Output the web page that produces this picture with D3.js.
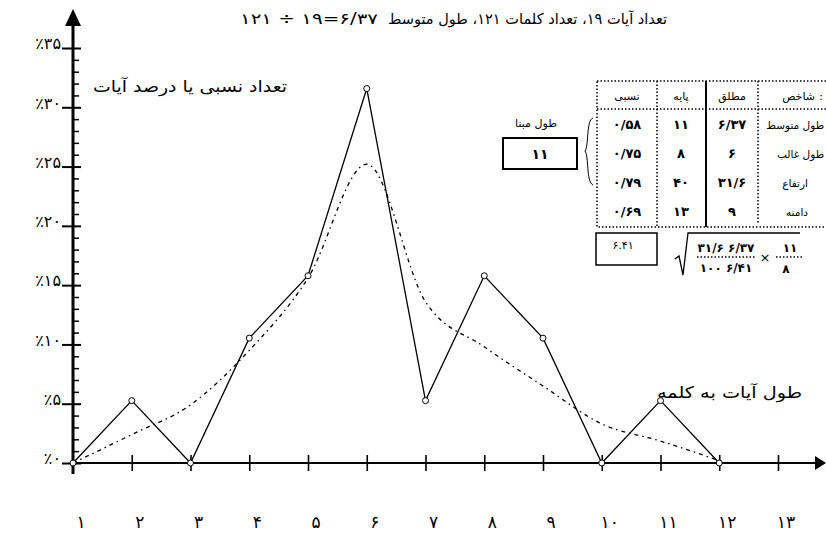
<!DOCTYPE html>
<html>
<head>
<meta charset="utf-8">
<script src="https://cdn.jsdelivr.net/npm/d3@7/dist/d3.min.js"></script>
<style>
  html, body { margin: 0; padding: 0; background: #fff; }
  svg { display: block; }
  text { font-family: "DejaVu Sans", "Noto Sans", sans-serif; fill: #000; }
</style>
</head>
<body>
<svg id="chart" width="826" height="535"></svg>
<script>
// ---- data ----
const lengths = [1, 2, 3, 4, 5, 6, 7, 8, 9, 10, 11, 12];
const percentVerses = [0, 5.26, 0, 10.53, 15.79, 31.58, 5.26, 15.79, 10.53, 0, 5.26, 0];
const fittedPercent = [0, 2.4, 4.9, 9.5, 15.6, 25.2, 13.6, 9.8, 6.5, 3.3, 1.85, 0.2];
const xTicks = [1, 2, 3, 4, 5, 6, 7, 8, 9, 10, 11, 12, 13];
const xTickLabels = ["۱", "۲", "۳", "۴", "۵", "۶", "۷", "۸", "۹", "۱۰", "۱۱", "۱۲", "۱۳"];
const yTicks = [0, 5, 10, 15, 20, 25, 30, 35];
const yTickLabels = ["٪۰", "٪۵", "٪۱۰", "٪۱۵", "٪۲۰", "٪۲۵", "٪۳۰", "٪۳۵"];
const yMinorTicks = d3.range(0, 36).filter(v => v % 5 !== 0);

const titleText = "تعداد آیات ۱۹، تعداد کلمات ۱۲۱، طول متوسط";
const titleFormula = "۱۲۱ ÷ ۱۹=۶/۳۷";
const yTitle = "تعداد نسبی یا درصد آیات";
const xTitle = "طول آیات به کلمه";

const tableHeaders = ["نسبی", "پایه", "مطلق", "شاخص"];
const tableRows = ["طول متوسط", "طول غالب", "ارتفاع", "دامنه"];
const colRelative = ["۰/۵۸", "۰/۷۵", "۰/۷۹", "۰/۶۹"];
const colBase = ["۱۱", "۸", "۴۰", "۱۳"];
const colAbsolute = ["۶/۳۷", "۶", "۳۱/۶", "۹"];
const baseLengthLabel = "طول مبنا";
const baseLengthValue = "۱۱";
const resultValue = "۶.۴۱";
const formulaNum1 = "۳۱/۶ ۶/۳۷", formulaDen1 = "۱۰۰ ۶/۴۱";
const formulaNum2 = "۱۱", formulaDen2 = "۸";

// ---- chart ----
const svg = d3.select("#chart");
const x = d3.scaleLinear().domain([1, 13]).range([73, 778]);
const y = d3.scaleLinear().domain([0, 35]).range([463, 48]);
const x0 = x(1), y0 = y(0);

// axes lines
svg.append("line").attr("x1", x0).attr("x2", x0).attr("y1", 22).attr("y2", 474)
  .attr("stroke", "#000").attr("stroke-width", 3);
svg.append("path").attr("d", `M${x0},9 L${x0 - 8},26 L${x0 + 8},26 Z`).attr("fill", "#000");
svg.append("line").attr("x1", x0).attr("x2", 816).attr("y1", y0).attr("y2", y0)
  .attr("stroke", "#000").attr("stroke-width", 2);
svg.append("path").attr("d", `M826,${y0} L815,${y0 - 7} L815,${y0 + 7} Z`).attr("fill", "#000");

// y axis ticks (major, both sides) + labels
const yLeft = svg.append("g").attr("transform", `translate(${x0},0)`)
  .call(d3.axisLeft(y).tickValues(yTicks).tickSize(11).tickPadding(1)
    .tickFormat((d, i) => yTickLabels[i]));
yLeft.select(".domain").remove();
yLeft.selectAll(".tick line").attr("stroke", "#000").attr("stroke-width", 2);
yLeft.selectAll(".tick text").attr("font-size", 16).attr("dy", "0.05em")
  .style("font-family", '"DejaVu Sans", sans-serif').attr("fill", "#000");
const yRight = svg.append("g").attr("transform", `translate(${x0},0)`)
  .call(d3.axisRight(y).tickValues(yTicks).tickSize(8).tickFormat(""));
yRight.select(".domain").remove();
yRight.selectAll(".tick line").attr("stroke", "#000").attr("stroke-width", 2);
const yMinor = svg.append("g").attr("transform", `translate(${x0},0)`)
  .call(d3.axisRight(y).tickValues(yMinorTicks).tickSize(6).tickFormat(""));
yMinor.select(".domain").remove();
yMinor.selectAll(".tick line").attr("stroke", "#000").attr("stroke-width", 1.5);

// x axis ticks (both sides)
const xB = svg.append("g").attr("transform", `translate(0,${y0})`)
  .call(d3.axisBottom(x).tickValues(xTicks.slice(1)).tickSize(8).tickFormat(""));
xB.select(".domain").remove();
xB.selectAll(".tick line").attr("stroke", "#000").attr("stroke-width", 1.6);
const xT = svg.append("g").attr("transform", `translate(0,${y0})`)
  .call(d3.axisTop(x).tickValues(xTicks.slice(1)).tickSize(8).tickFormat(""));
xT.select(".domain").remove();
xT.selectAll(".tick line").attr("stroke", "#000").attr("stroke-width", 1.6);

// x tick labels
svg.append("g").selectAll("text").data(xTicks).join("text")
  .attr("x", d => x(d) + 8).attr("y", 528)
  .attr("text-anchor", "middle").attr("font-size", 17)
  .text((d, i) => xTickLabels[i]);

// fitted curve (dash-dot)
const fitLine = d3.line().x((d, i) => x(lengths[i])).y(d => y(d)).curve(d3.curveMonotoneX);
svg.append("path").datum(fittedPercent).attr("d", fitLine)
  .attr("fill", "none").attr("stroke", "#000").attr("stroke-width", 1.3)
  .attr("stroke-dasharray", "4,4,1.5,4");

// observed line
const obsLine = d3.line().x((d, i) => x(lengths[i])).y(d => y(d));
svg.append("path").datum(percentVerses).attr("d", obsLine)
  .attr("fill", "none").attr("stroke", "#000").attr("stroke-width", 1.3);
svg.append("g").selectAll("circle").data(percentVerses).join("circle")
  .attr("cx", (d, i) => x(lengths[i])).attr("cy", d => y(d)).attr("r", 3)
  .attr("fill", "#fff").attr("stroke", "#000").attr("stroke-width", 1);

// titles
svg.append("text").attr("x", 667).attr("y", 24).attr("text-anchor", "end")
  .attr("font-size", 15).attr("textLength", 279).attr("lengthAdjust", "spacingAndGlyphs")
  .text(titleText);
svg.append("text").attr("x", 240).attr("y", 24).attr("text-anchor", "start")
  .attr("font-size", 15).attr("textLength", 138).attr("lengthAdjust", "spacingAndGlyphs")
  .text(titleFormula);
svg.append("text").attr("x", 287).attr("y", 92).attr("text-anchor", "end")
  .attr("font-size", 16).attr("textLength", 194).attr("lengthAdjust", "spacingAndGlyphs")
  .text(yTitle);
svg.append("text").attr("x", 802).attr("y", 398).attr("text-anchor", "end")
  .attr("font-size", 16).attr("textLength", 145).attr("lengthAdjust", "spacingAndGlyphs")
  .text(xTitle);

// ---- info table ----
const dot = "1.5,2";
const tg = svg.append("g");
const tLeft = 597, tTop = 81, tHead = 109, tBottom = 227, tRight = 830;
const colX = [657, 706, 758];
tg.append("rect").attr("x", tLeft).attr("y", tTop).attr("width", tRight - tLeft).attr("height", tBottom - tTop)
  .attr("fill", "none").attr("stroke", "#000").attr("stroke-width", 1.5).attr("stroke-dasharray", dot);
tg.append("line").attr("x1", tLeft).attr("x2", tRight).attr("y1", tHead).attr("y2", tHead)
  .attr("stroke", "#000").attr("stroke-width", 1.5).attr("stroke-dasharray", dot);
tg.append("line").attr("x1", colX[0]).attr("x2", colX[0]).attr("y1", tTop).attr("y2", tBottom)
  .attr("stroke", "#000").attr("stroke-width", 1.5).attr("stroke-dasharray", dot);
tg.append("line").attr("x1", colX[1]).attr("x2", colX[1]).attr("y1", tTop).attr("y2", tBottom)
  .attr("stroke", "#000").attr("stroke-width", 2);
tg.append("line").attr("x1", colX[2]).attr("x2", colX[2]).attr("y1", tTop).attr("y2", tBottom - 4)
  .attr("stroke", "#000").attr("stroke-width", 1.5).attr("stroke-dasharray", dot);

const headerX = [627, 681, 732, 815];
const headerAnchor = ["middle", "middle", "middle", "end"];
tg.selectAll("text.h").data(tableHeaders).join("text").attr("class", "h")
  .attr("x", (d, i) => headerX[i]).attr("y", 100).attr("text-anchor", (d, i) => headerAnchor[i])
  .attr("font-size", 11).text(d => d);
tg.append("text").attr("x", 823).attr("y", 100).attr("text-anchor", "end")
  .attr("font-size", 11).text(":");

const rowY = [129, 158, 187, 216];
tg.selectAll("text.r").data(tableRows).join("text").attr("class", "r")
  .attr("x", (d, i) => i < 2 ? 824 : 808).attr("y", (d, i) => rowY[i]).attr("text-anchor", "end")
  .attr("font-size", 10.5).text(d => d);
[[colRelative, 627], [colBase, 681], [colAbsolute, 732]].forEach(([col, cx]) => {
  tg.selectAll(null).data(col).join("text")
    .attr("x", cx).attr("y", (d, i) => rowY[i]).attr("text-anchor", "middle")
    .attr("font-size", 13).attr("font-weight", "bold").text(d => d);
});

// brace + base length box
svg.append("path").attr("d", "M593,118 C586,120 589,146 585,151 C589,156 586,182 593,185")
  .attr("fill", "none").attr("stroke", "#000").attr("stroke-width", 1);
svg.append("text").attr("x", 536).attr("y", 127).attr("text-anchor", "middle")
  .attr("font-size", 11).text(baseLengthLabel);
svg.append("rect").attr("x", 503).attr("y", 138).attr("width", 74).attr("height", 31)
  .attr("fill", "none").attr("stroke", "#000").attr("stroke-width", 2);
svg.append("text").attr("x", 540).attr("y", 159).attr("text-anchor", "middle")
  .attr("font-size", 14).attr("font-weight", "bold").text(baseLengthValue);

// result box
svg.append("rect").attr("x", 596).attr("y", 233).attr("width", 61).attr("height", 32)
  .attr("fill", "none").attr("stroke", "#000").attr("stroke-width", 1.5);
svg.append("text").attr("x", 623).attr("y", 249).attr("text-anchor", "middle")
  .attr("font-size", 11).text(resultValue);

// formula
svg.append("path").attr("d", "M675,259 L679,256 L683,275 L688,233 L800,233")
  .attr("fill", "none").attr("stroke", "#000").attr("stroke-width", 1.3);
svg.append("line").attr("x1", 697).attr("x2", 755).attr("y1", 257).attr("y2", 257)
  .attr("stroke", "#000").attr("stroke-width", 1.3).attr("stroke-dasharray", dot);
svg.append("line").attr("x1", 776).attr("x2", 803).attr("y1", 257).attr("y2", 257)
  .attr("stroke", "#000").attr("stroke-width", 1.3).attr("stroke-dasharray", dot);
svg.append("text").attr("x", 726).attr("y", 252).attr("text-anchor", "middle")
  .attr("font-size", 12).attr("font-weight", "bold").text(formulaNum1);
svg.append("text").attr("x", 726).attr("y", 272).attr("text-anchor", "middle")
  .attr("font-size", 12).attr("font-weight", "bold").text(formulaDen1);
svg.append("text").attr("x", 765).attr("y", 262).attr("text-anchor", "middle")
  .attr("font-size", 13).text("×");
svg.append("text").attr("x", 790).attr("y", 252).attr("text-anchor", "middle")
  .attr("font-size", 12).attr("font-weight", "bold").text(formulaNum2);
svg.append("text").attr("x", 786).attr("y", 273).attr("text-anchor", "middle")
  .attr("font-size", 12).attr("font-weight", "bold").text(formulaDen2);
</script>
</body>
</html>
